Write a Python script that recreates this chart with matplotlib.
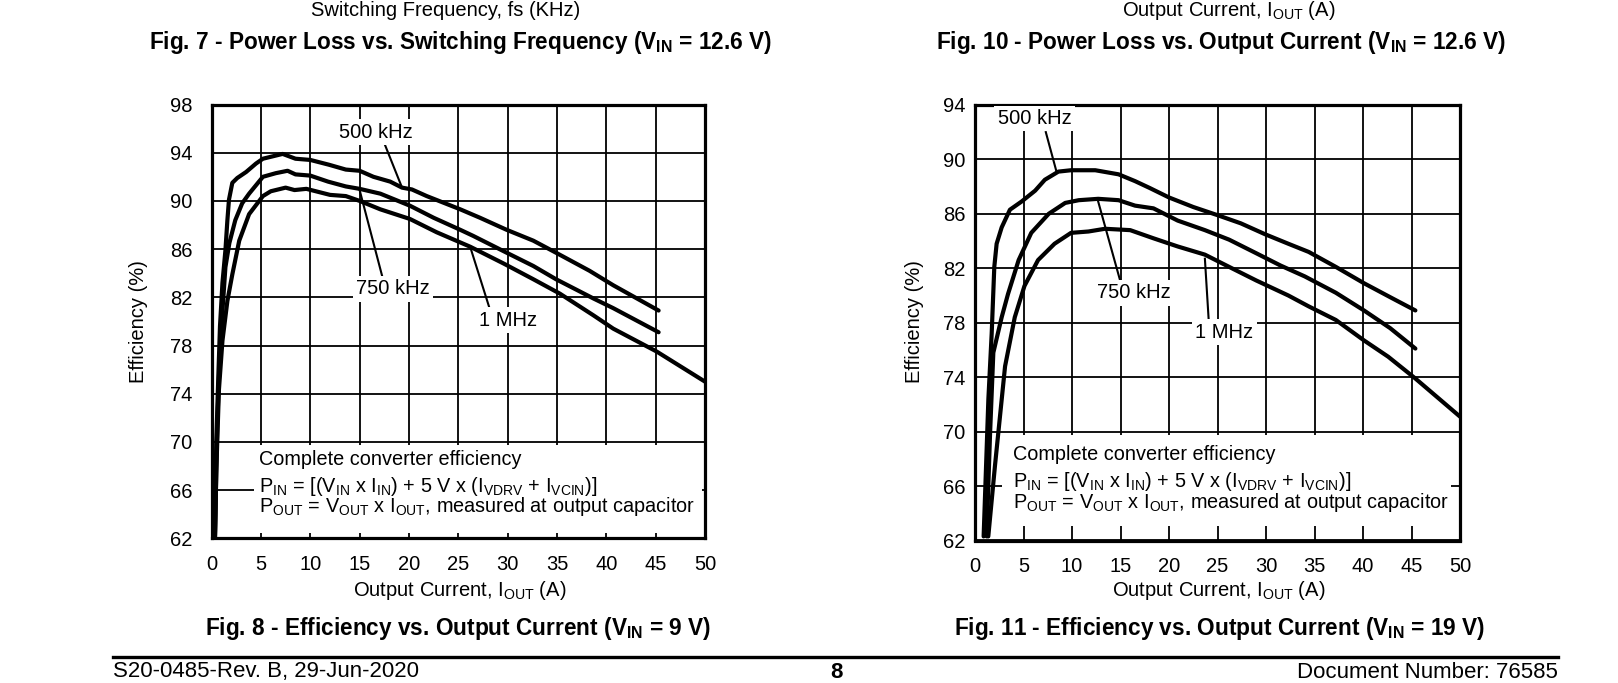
import matplotlib
matplotlib.use("Agg")
import matplotlib.pyplot as plt
from matplotlib.patches import Rectangle
from matplotlib.lines import Line2D

plt.rcParams['font.family'] = ['Liberation Sans', 'DejaVu Sans']

W, H = 1618, 683

# Fig. 8 - VIN = 9 V
x8_500 = [0.34, 0.47, 0.68, 0.85, 1.1, 1.4, 1.6, 1.76, 2.1, 2.6, 3.5, 4.5, 5.2, 6.2, 7.2, 8.5, 10.0,
          11.9, 13.6, 15.0, 16.4, 18.1, 19.3, 20.3, 21.8, 25.2, 27.2, 29.9, 32.6, 34.9, 38.3, 40.7, 45.3]
y8_500 = [62.0, 69.9, 75.4, 79.6, 83.2, 85.9, 88.4, 90.1, 91.5, 91.9, 92.4, 93.1, 93.5, 93.7, 93.9, 93.5, 93.4,
          93.0, 92.6, 92.5, 92.0, 91.6, 91.1, 90.95, 90.4, 89.3, 88.6, 87.6, 86.7, 85.7, 84.2, 83.0, 80.9]
x8_750 = [0.34, 0.57, 0.81, 1.1, 1.4, 1.8, 2.4, 3.1, 3.8, 5.2, 6.5, 7.7, 8.5, 10.0, 11.8, 13.6, 15.0,
          17.1, 20.1, 22.5, 25.2, 26.5, 29.9, 32.6, 34.9, 38.7, 40.7, 45.3]
y8_750 = [62.0, 71.3, 76.8, 80.9, 84.5, 86.5, 88.4, 89.8, 90.6, 92.0, 92.3, 92.5, 92.2, 92.1, 91.6, 91.2, 91.0,
          90.6, 89.6, 88.6, 87.6, 87.1, 85.7, 84.6, 83.5, 81.9, 81.1, 79.1]
x8_1m = [0.34, 0.47, 0.74, 1.1, 1.6, 2.1, 2.8, 3.8, 5.2, 6.0, 7.5, 8.4, 9.6, 12.0, 13.6, 15.0, 17.1,
         20.1, 22.8, 26.2, 29.6, 32.6, 35.3, 38.7, 40.7, 45.1, 50.0]
y8_1m = [62.0, 67.4, 74.3, 78.4, 81.7, 83.9, 86.7, 88.9, 90.4, 90.8, 91.1, 90.9, 91.0, 90.5, 90.4, 90.0, 89.3,
         88.5, 87.4, 86.2, 84.8, 83.5, 82.3, 80.5, 79.4, 77.5, 75.0]

# Fig. 11 - VIN = 19 V
x11_500 = [0.89, 1.38, 1.72, 1.99, 2.23, 2.75, 3.6, 4.8, 6.2, 7.2, 8.6, 9.9, 12.4, 14.8, 16.5, 18.0, 20.0,
           22.5, 25.0, 27.4, 29.9, 32.3, 34.4, 37.2, 40.1, 43.0, 45.4]
y11_500 = [62.3, 72.4, 77.2, 82.1, 83.8, 85.0, 86.3, 86.9, 87.7, 88.5, 89.1, 89.2, 89.2, 88.9, 88.4, 87.9, 87.2,
           86.5, 85.9, 85.3, 84.5, 83.8, 83.2, 82.1, 80.9, 79.8, 78.9]
x11_750 = [1.2, 1.55, 1.89, 2.75, 3.4, 4.5, 5.8, 7.6, 9.3, 10.7, 12.7, 14.8, 16.5, 18.4, 20.9, 23.7, 26.2,
           29.0, 31.5, 34.0, 37.2, 40.1, 42.8, 45.4]
y11_750 = [62.3, 69.8, 75.8, 78.4, 80.1, 82.6, 84.6, 86.0, 86.8, 87.0, 87.1, 87.0, 86.6, 86.4, 85.5, 84.8, 84.1,
           83.1, 82.2, 81.4, 80.2, 78.9, 77.6, 76.1]
x11_1m = [1.37, 2.06, 3.1, 4.1, 5.1, 6.5, 8.2, 9.9, 11.7, 13.4, 16.0, 18.4, 20.9, 23.7, 26.2, 29.0, 32.3,
          34.4, 37.2, 40.1, 42.6, 45.4, 50.0]
y11_1m = [62.3, 67.5, 74.8, 78.4, 80.7, 82.6, 83.8, 84.6, 84.7, 84.9, 84.8, 84.2, 83.6, 83.0, 82.1, 81.1, 80.0,
          79.2, 78.2, 76.7, 75.5, 73.9, 71.1]

xticks = list(range(0, 51, 5))
labels = ['500 kHz', '750 kHz', '1 MHz']

note1 = 'Complete converter efficiency'
note2 = (r'P$_{\mathregular{IN}}$ = [(V$_{\mathregular{IN}}$ x I$_{\mathregular{IN}}$) + 5 V x '
         r'(I$_{\mathregular{VDRV}}$ + I$_{\mathregular{VCIN}}$)]')
note3 = r'P$_{\mathregular{OUT}}$ = V$_{\mathregular{OUT}}$ x I$_{\mathregular{OUT}}$, measured at output capacitor'
xlab = r'Output Current, I$_{\mathregular{OUT}}$ (A)'

FS = 14.5
NOTE_FS = 14.3


def fx(x):
    return x / W


def fy(y):
    return 1 - y / H


def axes_px(left, right, top, bottom):
    return [fx(left), fy(bottom), (right - left) / W, (bottom - top) / H]


fig = plt.figure(figsize=(W / 100, H / 100), dpi=100)


def draw_chart(rect, curves, ymax, ypad, lab_pos, leaders, box, note_x, note_y):
    ax = fig.add_axes(rect)
    ax.set_xlim(0, 50)
    ax.set_ylim(62, ymax)
    ax.set_xticks(xticks)
    ax.set_yticks(range(62, ymax + 1, 4))
    ax.tick_params(length=0, labelsize=FS)
    ax.tick_params(axis='y', pad=ypad)
    ax.tick_params(axis='x', pad=12)
    ax.grid(True, color='black', linewidth=1.3)
    ax.set_axisbelow(True)
    for s in ax.spines.values():
        s.set_linewidth(2.3)
    ax.add_patch(Rectangle((box[0], box[1]), box[2] - box[0], box[3] - box[1],
                           facecolor='white', edgecolor='none', zorder=1))
    for xs, ys in curves:
        ax.plot(xs, ys, color='black', linewidth=3.0, solid_joinstyle='round',
                solid_capstyle='round', zorder=3)
    for (x0, y0, x1, y1) in leaders:
        ax.plot([x0, x1], [y0, y1], color='black', linewidth=1.5, zorder=3)
    for txt, (lx, ly) in zip(labels, lab_pos):
        ax.text(lx, ly, txt, fontsize=FS, ha='center', va='center', zorder=4,
                bbox=dict(facecolor='white', edgecolor='none', pad=2.5))
    for txt, ny in zip([note1, note2, note3], note_y):
        ax.text(note_x, ny, txt, fontsize=NOTE_FS, ha='left', va='center', zorder=4)
    return ax


draw_chart(axes_px(211.6, 705, 104.5, 538.3),
           [(x8_500, y8_500), (x8_750, y8_750), (x8_1m, y8_1m)], 98, 14,
           [(16.6, 95.7), (18.4, 82.7), (30.0, 80.1)],
           [(17.3, 95.2, 19.3, 91.1), (15.0, 90.9, 17.4, 83.4), (26.2, 86.2, 28.2, 81.0)],
           (4.3, 62.4, 49.7, 69.75), 4.8, [68.5, 66.3, 64.6])

draw_chart(axes_px(975, 1460, 104.9, 540.5),
           [(x11_500, y11_500), (x11_750, y11_750), (x11_1m, y11_1m)], 94, 7,
           [(6.15, 93.0), (16.4, 80.2), (25.7, 77.3)],
           [(7.3, 92.0, 8.4, 89.1), (12.7, 86.9, 15.0, 81.0), (23.7, 82.7, 24.1, 78.1)],
           (2.75, 63.1, 49.1, 69.75), 3.95, [68.3, 66.3, 64.8])

# y labels
fig.text(fx(139), fy(322), 'Efficiency (%)', rotation=90, fontsize=FS, ha='center', va='center')
fig.text(fx(915), fy(322), 'Efficiency (%)', rotation=90, fontsize=FS, ha='center', va='center')

# x labels
fig.text(fx(460), fy(590), xlab, fontsize=FS, ha='center', va='center')
fig.text(fx(1219), fy(590), xlab, fontsize=FS, ha='center', va='center')

# captions of the charts above, at the top edge of the page
fig.text(fx(446), fy(10), 'Switching Frequency, fs (KHz)', fontsize=FS, ha='center', va='center')
fig.text(fx(1229), fy(11), xlab, fontsize=FS, ha='center', va='center')

# figure titles
fig.text(fx(460), fy(43), r'Fig. 7 - Power Loss vs. Switching Frequency (V$_{\mathregular{IN}}$ = 12.6 V)',
         fontsize=16.3, fontweight='bold', ha='center', va='center')
fig.text(fx(1221), fy(43), r'Fig. 10 - Power Loss vs. Output Current (V$_{\mathregular{IN}}$ = 12.6 V)',
         fontsize=16.3, fontweight='bold', ha='center', va='center')
fig.text(fx(458), fy(628), r'Fig. 8 - Efficiency vs. Output Current (V$_{\mathregular{IN}}$ = 9 V)',
         fontsize=16.3, fontweight='bold', ha='center', va='center')
fig.text(fx(1220), fy(628), r'Fig. 11 - Efficiency vs. Output Current (V$_{\mathregular{IN}}$ = 19 V)',
         fontsize=16.3, fontweight='bold', ha='center', va='center')

# footer
fig.add_artist(Line2D([fx(113), fx(1558)], [fy(657), fy(657)], color='black', linewidth=2.4))
fig.text(fx(113), fy(672), 'S20-0485-Rev. B, 29-Jun-2020', fontsize=16, ha='left', va='center')
fig.text(fx(836), fy(672), '8', fontsize=16, fontweight='bold', ha='center', va='center')
fig.text(fx(1558), fy(672), 'Document Number: 76585', fontsize=16, ha='right', va='center')

fig.savefig('out.png', dpi=100, facecolor='white')
